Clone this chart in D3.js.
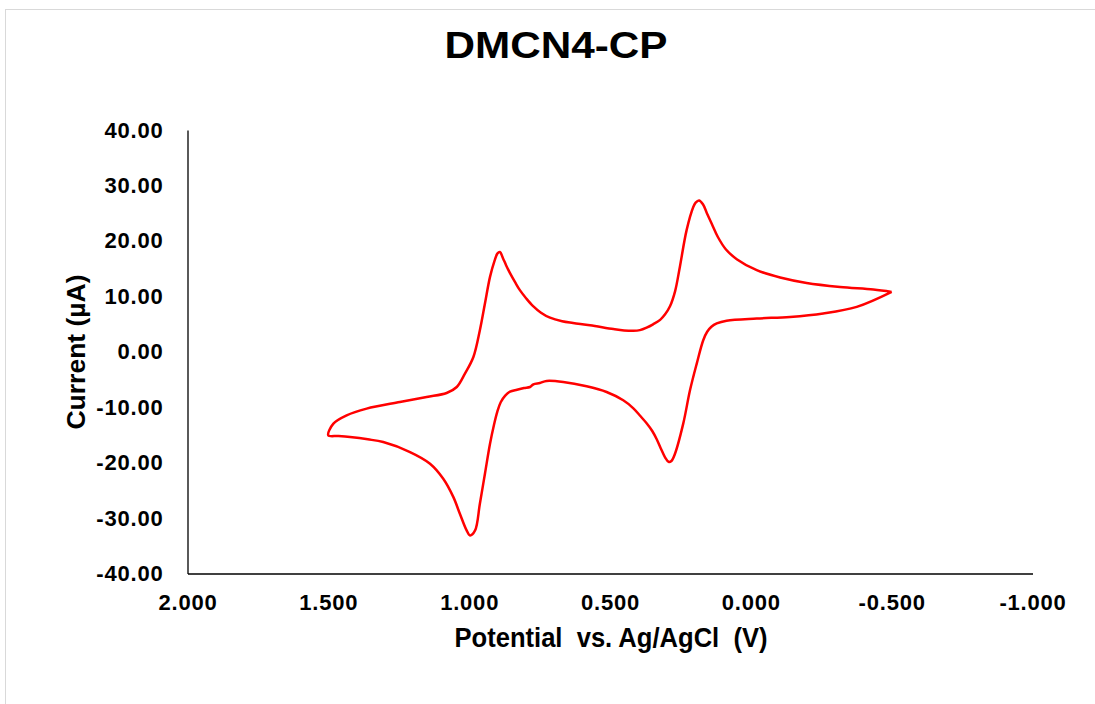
<!DOCTYPE html>
<html>
<head>
<meta charset="utf-8">
<script src="https://cdn.jsdelivr.net/npm/d3@7"></script>
<style>
  html, body { margin: 0; padding: 0; background: #fff; }
  svg { display: block; font-family: "Liberation Sans", Arial, sans-serif; font-weight: bold; }
</style>
</head>
<body>
<div id="chart"></div>
<script>
// Cyclic voltammogram.
// Forward sweep: from the -0.5 V vertex towards +1.5 V (upper branch).
var upperPotential = [-0.500, -0.435, -0.317, -0.198, -0.104, -0.021, 0.050, 0.089, 0.117, 0.138, 0.156,
  0.170, 0.184, 0.196, 0.204, 0.228, 0.252, 0.269, 0.287, 0.305, 0.322, 0.347, 0.370, 0.394, 0.417,
  0.450, 0.488, 0.571, 0.631, 0.670, 0.713, 0.745, 0.773, 0.798, 0.820, 0.837, 0.855, 0.869, 0.880,
  0.891, 0.900, 0.910, 0.926, 0.944, 0.962, 0.985, 1.015, 1.044, 1.080, 1.151, 1.246, 1.364, 1.435,
  1.482, 1.500];
var upperCurrent = [10.80, 11.23, 11.70, 12.42, 13.40, 14.72, 16.70, 18.50, 20.70, 23.00, 25.00,
  26.60, 27.30, 26.90, 26.15, 21.94, 15.30, 10.90, 8.20, 6.70, 5.75, 4.95, 4.35, 3.90, 3.78,
  3.85, 4.10, 4.79, 5.20, 5.51, 6.14, 7.04, 8.22, 9.66, 11.11, 12.55, 14.18, 15.62, 16.88,
  18.00, 17.70, 16.40, 13.50, 8.70, 3.88, -0.94, -3.94, -6.36, -7.44, -8.16, -9.07, -10.26, -11.47,
  -12.97, -15.08];
// Reverse sweep: from +1.5 V back to -0.5 V (lower branch).
var lowerPotential = [1.465, 1.423, 1.360, 1.305, 1.210, 1.139, 1.092, 1.056, 1.033, 1.009, 0.997,
  0.979, 0.962, 0.944, 0.926, 0.912, 0.900, 0.888, 0.872, 0.855, 0.830, 0.805, 0.784, 0.772, 0.749,
  0.725, 0.666, 0.583, 0.512, 0.453, 0.417, 0.394, 0.370, 0.350, 0.335, 0.320, 0.305, 0.292, 0.282,
  0.270, 0.240, 0.216, 0.192, 0.169, 0.155, 0.140, 0.121, 0.086, -0.021, -0.139, -0.257, -0.376, -0.500];
var lowerCurrent = [-15.20, -15.39, -15.80, -16.29, -18.09, -20.19, -22.90, -26.22, -29.22, -32.23, -33.14,
  -32.23, -27.41, -22.00, -16.58, -13.20, -10.80, -9.10, -7.90, -7.20, -6.85, -6.55, -6.36, -5.87, -5.63,
  -5.27, -5.45, -6.23, -7.26, -8.76, -10.20, -11.50, -12.90, -14.30, -15.70, -17.40, -19.00, -19.85, -19.70,
  -18.50, -12.97, -6.95, -2.13, 2.08, 3.60, 4.50, 5.10, 5.60, 6.00, 6.28, 6.90, 8.09, 10.80];

var xTicks = [2.0, 1.5, 1.0, 0.5, 0.0, -0.5, -1.0];
var yTicks = [40, 30, 20, 10, 0, -10, -20, -30, -40];

var chartTitle = 'DMCN4-CP';
var xTitle = 'Potential  vs. Ag/AgCl  (V)';
var yTitle = 'Current (\u00b5A)';

var W = 1095, H = 704;
var plot = { left: 187.5, right: 1032.5, top: 130, bottom: 573.5 };

var svg = d3.select('#chart').append('svg')
  .attr('width', W).attr('height', H)
  .attr('viewBox', [0, 0, W, H].join(' '));

// faint outer frame (right/bottom edges fall outside the picture)
svg.append('rect')
  .attr('x', 5.5).attr('y', 9.5)
  .attr('width', W + 20).attr('height', H + 20)
  .attr('fill', '#fff')
  .attr('stroke', '#d9d9d9').attr('stroke-width', 1);

var x = d3.scaleLinear().domain([2, -1]).range([plot.left, plot.right]);
var y = d3.scaleLinear().domain([-40, 40]).range([plot.bottom, plot.top]);

var xAxis = svg.append('g')
  .attr('transform', 'translate(0,' + plot.bottom + ')')
  .call(d3.axisBottom(x).tickValues(xTicks).tickSize(0).tickPadding(21)
    .tickFormat(function (d) { return d.toFixed(3); }));

var yAxis = svg.append('g')
  .attr('transform', 'translate(' + plot.left + ',0)')
  .call(d3.axisLeft(y).tickValues(yTicks).tickSize(0).tickPadding(24)
    .tickFormat(function (d) { return d.toFixed(2); }));

[xAxis, yAxis].forEach(function (ax) {
  ax.select('.domain').attr('stroke', '#000').attr('stroke-width', 1.3);
  ax.selectAll('text')
    .attr('fill', '#000')
    .style('font-family', '"Liberation Sans", Arial, sans-serif')
    .style('font-weight', 'bold')
    .style('font-size', '22px')
    .style('letter-spacing', '0.8px');
});

// one closed loop: upper branch then lower branch
var loop = upperPotential.map(function (v, i) { return [v, upperCurrent[i]]; })
  .concat(lowerPotential.map(function (v, i) { return [v, lowerCurrent[i]]; }));

var line = d3.line()
  .x(function (d) { return x(d[0]); })
  .y(function (d) { return y(d[1]); })
  .curve(d3.curveCatmullRom.alpha(0.5));

svg.append('path')
  .datum(loop)
  .attr('d', line)
  .attr('fill', 'none')
  .attr('stroke', '#ff0000')
  .attr('stroke-width', 2.5)
  .attr('stroke-linejoin', 'round');

// titles
svg.append('text')
  .attr('x', 556).attr('y', 58)
  .attr('text-anchor', 'middle')
  .attr('textLength', 223).attr('lengthAdjust', 'spacingAndGlyphs')
  .style('font-size', '36px')
  .text(chartTitle);

svg.append('text')
  .attr('x', (plot.left + plot.right) / 2 + 1).attr('y', 647)
  .attr('text-anchor', 'middle')
  .attr('textLength', 313).attr('lengthAdjust', 'spacingAndGlyphs')
  .style('font-size', '27px')
  .style('white-space', 'pre')
  .text(xTitle);

svg.append('text')
  .attr('transform', 'translate(85,352) rotate(-90)')
  .attr('text-anchor', 'middle')
  .attr('textLength', 155).attr('lengthAdjust', 'spacingAndGlyphs')
  .style('font-size', '25px')
  .text(yTitle);
</script>
</body>
</html>
